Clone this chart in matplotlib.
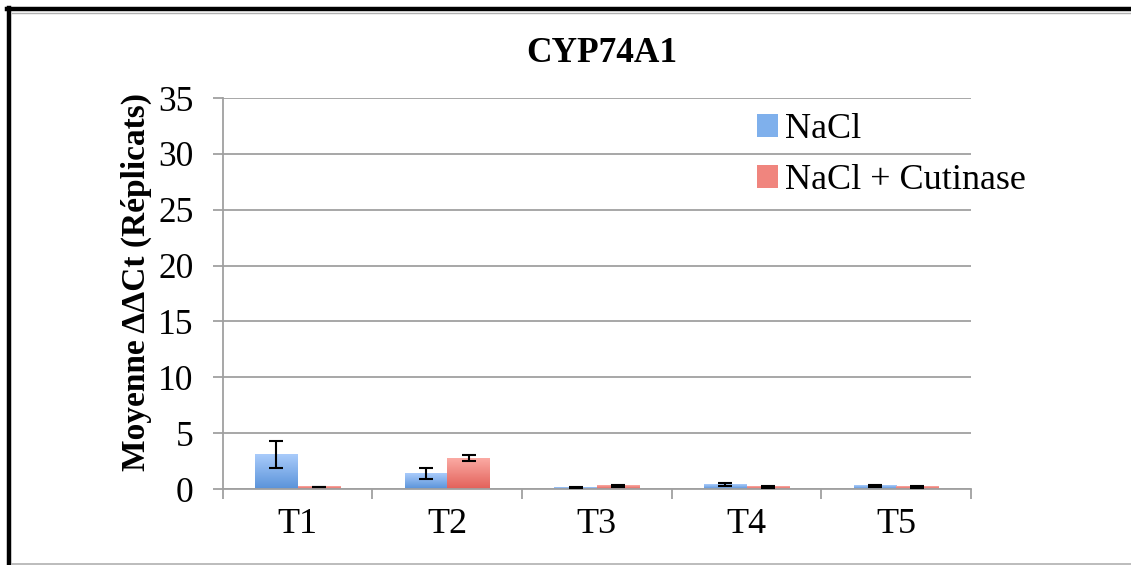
import numpy as np
import matplotlib.pyplot as plt
from matplotlib.colors import LinearSegmentedColormap
from matplotlib.lines import Line2D
from matplotlib.patches import Patch

# Données
categories = ['T1', 'T2', 'T3', 'T4', 'T5']
nacl = [3.08, 1.42, 0.12, 0.40, 0.27]
nacl_err = [1.22, 0.48, 0.02, 0.12, 0.08]
cutinase = [0.18, 2.76, 0.27, 0.18, 0.18]
cutinase_err = [0.02, 0.25, 0.10, 0.06, 0.07]
series_names = ['NaCl', 'NaCl + Cutinase']

plt.rcParams['font.family'] = ['Liberation Serif', 'DejaVu Serif']

fig = plt.figure(figsize=(11.31, 5.65), dpi=100)
ax = fig.add_axes([0.197, 0.1345, 0.6615, 0.692])

x = np.arange(len(categories))
w = 0.285

blue = LinearSegmentedColormap.from_list('b', ['#5a93d9', '#a9cbfb'])
red = LinearSegmentedColormap.from_list('r', ['#e2615a', '#fbaaa3'])
grad = np.linspace(0, 1, 64).reshape(-1, 1)

def gradient_bars(xs, vals, cmap):
    for xi, v in zip(xs, vals):
        ax.imshow(grad, extent=(xi - w / 2, xi + w / 2, 0, v), origin='lower',
                  aspect='auto', cmap=cmap, zorder=2)

gradient_bars(x - w / 2, nacl, blue)
gradient_bars(x + w / 2, cutinase, red)
ax.errorbar(x - w / 2, nacl, yerr=nacl_err, fmt='none', ecolor='black',
            elinewidth=1.5, capsize=5, capthick=1.5, zorder=3)
ax.errorbar(x + w / 2, cutinase, yerr=cutinase_err, fmt='none', ecolor='black',
            elinewidth=1.5, capsize=5, capthick=1.5, zorder=3)

ax.set_xlim(-0.5, 4.5)
ax.set_ylim(0, 35)
ax.set_yticks(range(0, 36, 5))
ax.grid(axis='y', color='#a0a0a0', linewidth=1.3)
ax.set_axisbelow(True)

ax.set_xticks(x)
ax.set_xticklabels(categories)
ax.set_xticks(np.arange(-0.5, 5, 1), minor=True)
ax.tick_params(axis='x', which='major', length=0, pad=14, labelsize=26)
ax.tick_params(axis='x', which='minor', length=7, width=1.3, color='#a0a0a0')
ax.tick_params(axis='y', length=7, width=1.3, color='#a0a0a0', labelsize=25.5, pad=14)

for s in ['top', 'right']:
    ax.spines[s].set_visible(False)
for s in ['left', 'bottom']:
    ax.spines[s].set_color('#a0a0a0')
    ax.spines[s].set_linewidth(1.3)

ax.set_ylabel('Moyenne ΔΔCt (Réplicats)', fontsize=24, fontweight='bold')
ax.yaxis.set_label_coords(-0.094, 0.53)
fig.text(0.532, 0.905, 'CYP74A1', ha='center', va='center', fontsize=25.5, fontweight='bold')

handles = [Patch(facecolor='#7fb0ec', edgecolor='none'),
           Patch(facecolor='#f0857e', edgecolor='none')]
ax.legend(handles, series_names, loc='upper left', bbox_to_anchor=(0.67, 1.045),
          frameon=False, fontsize=26, handlelength=0.6, handleheight=0.6,
          handletextpad=0.18, labelspacing=0.5)

# Cadre
fig.add_artist(Line2D([9 / 1131, 9 / 1131], [0, 1 - 8 / 565], color='black', lw=3.2,
                      transform=fig.transFigure))
fig.add_artist(Line2D([7 / 1131, 1], [1 - 9 / 565, 1 - 9 / 565], color='black', lw=3.2,
                      transform=fig.transFigure))
fig.add_artist(Line2D([12 / 1131, 1], [1 - 13 / 565, 1 - 13 / 565], color='#b0b0b0', lw=1,
                      transform=fig.transFigure))
fig.add_artist(Line2D([12 / 1131, 1], [1 / 565, 1 / 565], color='#b0b0b0', lw=1.2,
                      transform=fig.transFigure))

fig.savefig('out.png', dpi=100)
